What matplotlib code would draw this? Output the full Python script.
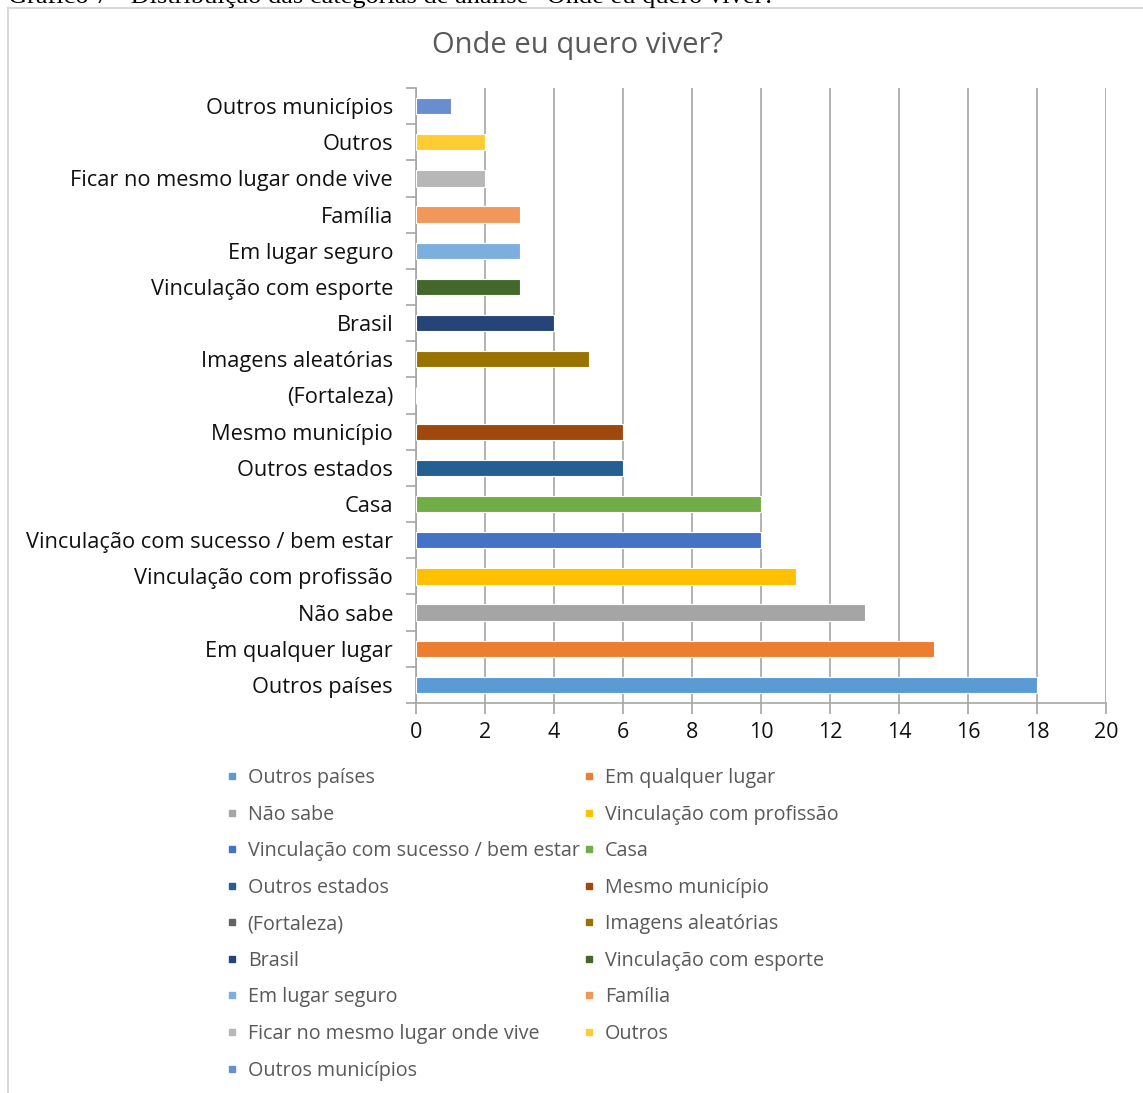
import matplotlib.pyplot as plt
from matplotlib.lines import Line2D

plt.rcParams['font.family'] = ['Open Sans', 'DejaVu Sans']

# categories from bottom (first) to top (last), as in the Excel series order
categorias = ["Outros países", "Em qualquer lugar", "Não sabe",
              "Vinculação com profissão", "Vinculação com sucesso / bem estar",
              "Casa", "Outros estados", "Mesmo município", "(Fortaleza)",
              "Imagens aleatórias", "Brasil", "Vinculação com esporte",
              "Em lugar seguro", "Família", "Ficar no mesmo lugar onde vive",
              "Outros", "Outros municípios"]
valores = [18, 15, 13, 11, 10, 10, 6, 6, 0, 5, 4, 3, 3, 3, 2, 2, 1]
cores = ["#5B9BD5", "#ED7D31", "#A5A5A5", "#FFC000", "#4472C4", "#70AD47",
         "#255E91", "#9E480E", "#636363", "#997300", "#264478", "#43682B",
         "#7CAFDD", "#F1975A", "#B7B7B7", "#FFCD33", "#698ED0"]
xticks = list(range(0, 21, 2))

W, H = 1143, 1093
fig = plt.figure(figsize=(W / 100, H / 100), dpi=100)
ax = fig.add_axes([416 / W, 1 - 703 / H, (1106 - 416) / W, (703 - 88) / H])

grid_c = '#a6a6a6'
pos = list(range(len(categorias)))
ax.barh(pos, valores, height=0.45, color=cores, edgecolor='white',
        linewidth=0.8, zorder=3)

ax.set_xlim(0, 20)
ax.set_ylim(-0.5, len(categorias) - 0.5)
ax.set_xticks(xticks)
ax.set_yticks(pos)
ax.set_yticklabels(categorias)
# tick marks between categories, like Excel
ax.set_yticks([p - 0.5 for p in pos] + [len(pos) - 0.5], minor=True)
ax.tick_params(axis='y', which='major', length=0, pad=16.5, labelsize=15.7,
               labelcolor='#111111')
ax.tick_params(axis='y', which='minor', length=7, width=1.2, color=grid_c,
               direction='out')
ax.tick_params(axis='x', length=8, width=1.2, color=grid_c, pad=6,
               labelsize=15.5, labelcolor='#111111')
ax.grid(axis='x', color=grid_c, linewidth=1.2, zorder=0)
for s in ['top', 'right']:
    ax.spines[s].set_visible(False)
for s in ['left', 'bottom']:
    ax.spines[s].set_color(grid_c)
    ax.spines[s].set_linewidth(1.2)

fig.text(577 / W, 1 - 45 / H, "Onde eu quero viver?", ha='center', va='center',
         fontsize=21, color='#595959')
fig.text(8 / W, 1 - 3 / H,
         "Gráfico 7 - Distribuição das categorias de análise \u201cOnde eu quero viver?\u201d",
         ha='left', va='baseline', fontsize=19, family='Liberation Serif')

# chart frame (only left and top edges are inside the crop)
fig.add_artist(Line2D([8 / W, 8 / W], [0, 1 - 8 / H], transform=fig.transFigure,
                      color='#d9d9d9', linewidth=1.5))
fig.add_artist(Line2D([8 / W, 1], [1 - 8 / H, 1 - 8 / H], transform=fig.transFigure,
                      color='#d9d9d9', linewidth=1.5))

handles = [Line2D([], [], marker='s', linestyle='none', markersize=5,
                  markerfacecolor=c, markeredgecolor=c) for c in cores]
for col, x0 in [(0, 226), (1, 583)]:
    idx = list(range(col, len(categorias), 2))
    fig.legend([handles[i] for i in idx], [categorias[i] for i in idx],
               loc='upper left', bbox_to_anchor=(x0 / W, 1 - 768 / H),
               frameon=False, fontsize=14.2, labelcolor='#595959',
               handlelength=0.6, handletextpad=0.5, labelspacing=0.84,
               borderaxespad=0, borderpad=0)

fig.savefig('out.png', dpi=100)
